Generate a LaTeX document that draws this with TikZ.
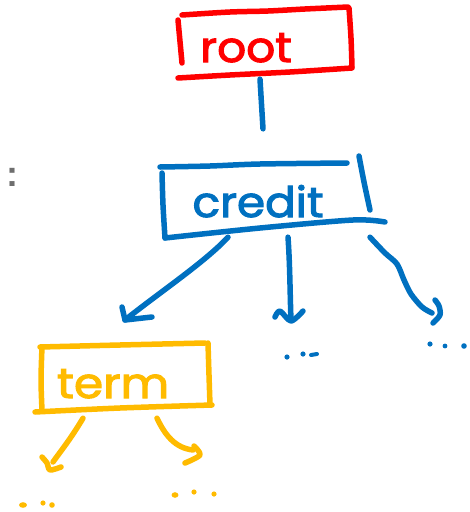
\documentclass[tikz,border=0pt]{standalone}
\usepackage{fontspec}
\setmainfont{Poppins}
\newfontfamily\inkfont[FakeBold=2.4]{Poppins}
\newfontfamily\notefont{Liberation Sans}
\usetikzlibrary{calc}
\definecolor{inkred}{HTML}{FF0000}
\definecolor{inkblue}{HTML}{0070C0}
\definecolor{inkgold}{HTML}{FFBB00}
\definecolor{notegray}{HTML}{6E6E6E}

\begin{document}
\begin{tikzpicture}[x=1pt,y=-1pt,
  ink/.style={line width=5.5pt,line cap=round,line join=round},
  redink/.style={ink,draw=inkred},
  blueink/.style={ink,draw=inkblue},
  goldink/.style={ink,draw=inkgold},
  word/.style={font=\inkfont\fontsize{42}{42}\selectfont,inner sep=0pt,anchor=base},
  frame/.style 2 args={inner sep=0pt,minimum width=#1,minimum height=#2},
  dot/.style={fill=#1,draw=none}]

\useasboundingbox (0,0) rectangle (470,512);

% invisible frames that the connectors attach to
\node[frame={170pt}{62pt}] (rootbox)   at (265,41)  {};
\node[frame={204pt}{72pt}] (creditbox) at (264,201) {};
\node[frame={172pt}{64pt}] (termbox)   at (124,376) {};

% labels
\node[word,text=inkred]  (root)   at (246,62)  {\scalebox{1.08}[1]{root}};
\node[word,text=inkblue] (credit) at (258,217) {\scalebox{1.08}[1]{credit}};
\node[word,text=inkgold] (term)   at (113,398) {\scalebox{1.12}[1]{term}};

% grey colon at the left margin
\node[font=\notefont\bfseries\fontsize{36}{36}\selectfont,text=notegray,inner sep=0pt,anchor=base] (colon) at (12,186) {:};

% --- root frame (red)
\draw[redink] (178,20) -- (182,63);
\draw[redink] plot[smooth] coordinates {(182,15) (230,12) (268,11) (305,9) (348,7)};
\draw[redink] plot[smooth] coordinates {(349,8) (351,38) (352,67)};
\draw[redink] plot[smooth] coordinates {(178,78) (230,75) (290,72) (352,68)};

% --- credit frame (blue)
\draw[blueink] plot[smooth] coordinates {(160,167) (210,166) (260,164) (347,163)};
\draw[blueink] plot[smooth] coordinates {(359,156) (364,182) (370,210)};
\draw[blueink] plot[smooth] coordinates {(162,173) (163,205) (165,238)};
\draw[blueink] plot[smooth] coordinates {(165,238) (260,228) (353,220) (385,222)};

% --- term frame (gold)
\draw[goldink] plot[smooth] coordinates {(42,347) (41,380) (42,410)};
\draw[goldink] plot[smooth] coordinates {(40,347) (120,345) (205,343)};
\draw[goldink] plot[smooth] coordinates {(208,343) (209,375) (210,405)};
\draw[goldink] plot[smooth] coordinates {(35,412) (120,408) (212,405)};

% --- root -> credit
\draw[blueink] ([xshift=-5pt,yshift=-7pt]rootbox.south) -- ([xshift=-1pt,yshift=36pt]creditbox.north);

% --- credit -> term
\coordinate (tipA) at (125,320);
\draw[blueink] ([xshift=-36pt]creditbox.south) .. controls (205,262) and (160,292) .. (tipA);
\draw[blueink] ($(tipA)+(-3,-13)$) -- (tipA) -- ($(tipA)+(27,-3)$);

% --- credit -> middle child
\coordinate (tipB) at (291,320);
\draw[blueink] ([xshift=24pt]creditbox.south) .. controls (290,265) and (290,295) .. (tipB);
\draw[blueink] plot[smooth] coordinates {(275,317) (280,311) (291,321) (303,311)};

% --- credit -> right child
\coordinate (tipC) at (432,313);
\draw[blueink] plot[smooth] coordinates {($(creditbox.south)+(106,0)$) (385,253) (397,264) (404,280) (411,294) (422,307) (tipC)};
\draw[blueink] plot[smooth] coordinates {(435,300) (439,306) (440,315) (433,323)};

% dots under credit's other children
\fill[dot=inkblue] (287,357) circle (2.6pt);
\fill[dot=inkblue] (303,354) circle (2.6pt);
\draw[blueink,line width=4pt] (311,355) -- (317,354);
\fill[dot=inkblue] (430,344) circle (2.6pt);
\fill[dot=inkblue] (445,346) circle (2.4pt);
\fill[dot=inkblue] (464,346) circle (2.8pt);

% --- term -> left child
\coordinate (tipD) at (50,470);
\draw[goldink] ([xshift=-41pt,yshift=-10pt]termbox.south) .. controls (70,440) and (60,452) .. (53,462);
\draw[goldink] plot[smooth] coordinates {(42,457) (47,463) (tipD) (61,467)};

% --- term -> right child
\coordinate (tipE) at (193,450);
\draw[goldink] ([xshift=33pt,yshift=-10pt]termbox.south) .. controls (165,435) and (175,448) .. (tipE);
\draw[goldink] plot[smooth] coordinates {(194,446) (200,455) (185,463)};

% dots under term's children
\fill[dot=inkgold] (23,505) ellipse (4pt and 2.8pt);
\fill[dot=inkgold] (43,503) circle (2.6pt);
\fill[dot=inkgold] (52,505) circle (2.8pt);
\fill[dot=inkgold] (175,495) ellipse (3.5pt and 2.8pt);
\fill[dot=inkgold] (194,492) circle (2.6pt);
\fill[dot=inkgold] (214,494) circle (2.6pt);
\end{tikzpicture}
\end{document}
